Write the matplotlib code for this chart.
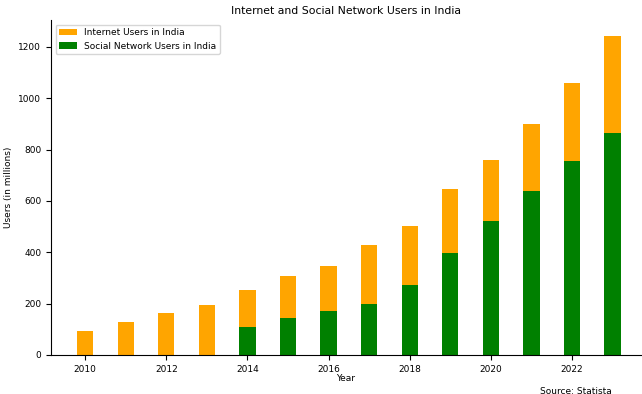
import matplotlib
matplotlib.use("Agg")
import matplotlib.pyplot as plt

years = [2010, 2011, 2012, 2013, 2014, 2015, 2016, 2017, 2018, 2019, 2020, 2021, 2022, 2023]
internet_users = [93, 128, 162, 194, 255, 306, 347, 428, 502, 646, 758, 901, 1060, 1243]
social_years = [2014, 2015, 2016, 2017, 2018, 2019, 2020, 2021, 2022, 2023]
social_users = [109, 145, 171, 200, 271, 398, 521, 640, 757, 863]

fig = plt.figure(figsize=(6.42, 3.94), dpi=100)
ax = fig.add_axes([51 / 642, 39 / 394, 590 / 642, 335 / 394])

ax.bar(years, internet_users, width=0.4, color="orange", label="Internet Users in India")
ax.bar(social_years, social_users, width=0.4, color="green", label="Social Network Users in India")

ax.set_xlim(2009.16, 2023.7)
ax.set_title("Internet and Social Network Users in India", fontsize=7.8, pad=4)
ax.set_xlabel("Year", fontsize=6.5, labelpad=0)
ax.set_ylabel("Users (in millions)", fontsize=6.5)
ax.tick_params(labelsize=6.5)
ax.spines["top"].set_visible(False)
ax.spines["right"].set_visible(False)
ax.legend(loc="upper left", fontsize=6.5)

fig.text(612 / 642, 3 / 394, "Source: Statista", ha="right", va="center", fontsize=6.5)

fig.savefig("out.png", dpi=100)
